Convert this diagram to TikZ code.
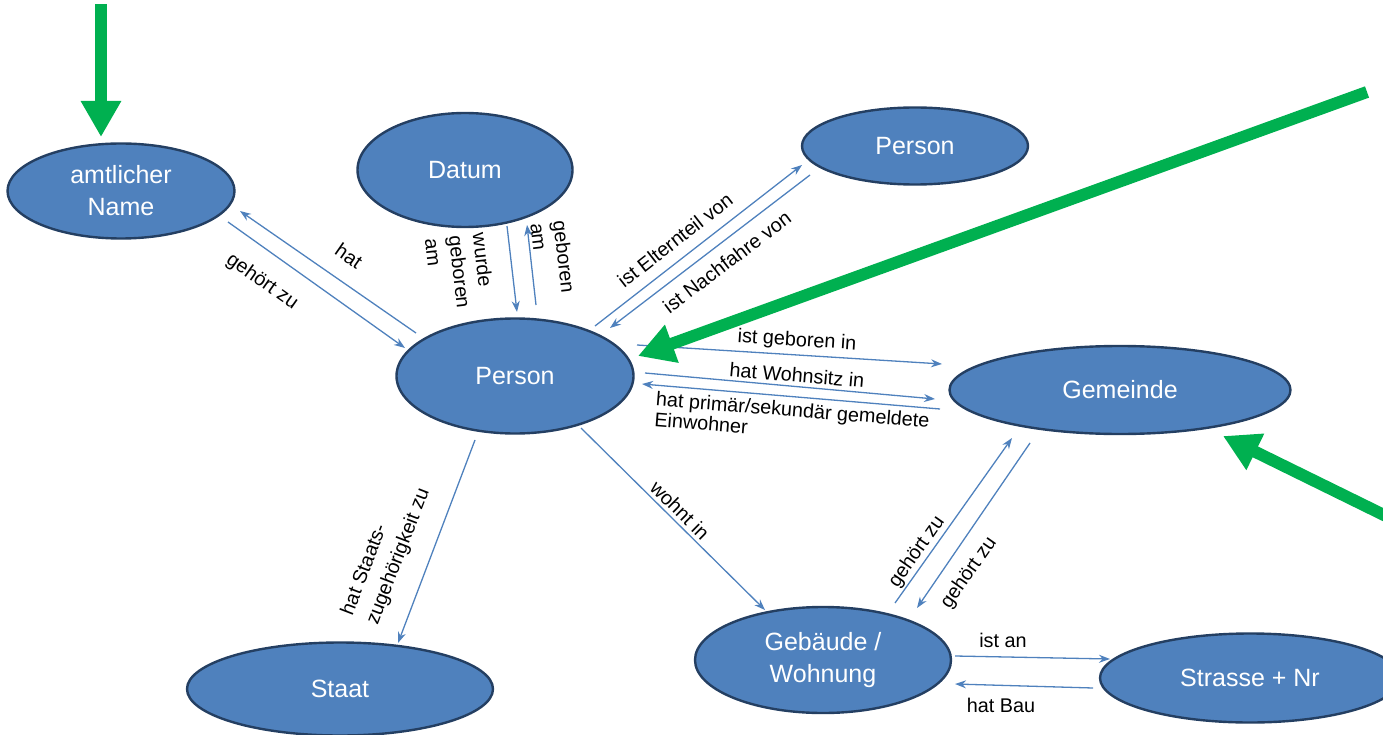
\documentclass[tikz,border=0pt]{standalone}
\usepackage{fontspec}
\setmainfont{Liberation Sans}
\usetikzlibrary{arrows.meta,shapes.geometric}
\definecolor{entfill}{HTML}{4F81BD}
\definecolor{entline}{HTML}{243F62}
\definecolor{relline}{HTML}{4F81BD}
\definecolor{hint}{HTML}{00B050}
\tikzset{
  entity/.style={ellipse, draw=entline, line width=2.4pt, fill=entfill,
    inner sep=0pt, text=white, align=center,
    font=\fontsize{25}{32}\selectfont},
  rel/.style={draw=relline, line width=1.3pt, -{Stealth[length=11pt,width=8pt]}},
  rlabel/.style={font=\fontsize{19.8}{22}\selectfont, inner sep=0pt, align=left},
  hintarrow/.style={draw=hint, line width=12pt, -{Triangle[length=36pt,width=38pt]}}
}
\begin{document}
\begin{tikzpicture}[x=1pt,y=-1pt]
\useasboundingbox (0,0) rectangle (1383,735);
\clip (0,0) rectangle (1383,735);

% entities
\node[entity, minimum width=227pt, minimum height=95pt] (name) at (121,191) {amtlicher\\Name};
\node[entity, minimum width=215pt, minimum height=114pt] (datum) at (465,170) {Datum};
\node[entity, minimum width=226pt, minimum height=77pt] (ptop) at (915,146) {Person};
\node[entity, minimum width=237pt, minimum height=115pt] (person) at (515,376) {Person};
\node[entity, minimum width=341pt, minimum height=88pt] (gemeinde) at (1120,390) {Gemeinde};
\node[entity, minimum width=306pt, minimum height=93pt] (staat) at (340,689) {Staat};
\node[entity, minimum width=256pt, minimum height=106pt] (gebaeude) at (823,660) {Gebäude /\\Wohnung};
\node[entity, minimum width=300pt, minimum height=89pt] (strasse) at (1250,678) {Strasse + Nr};

% relations
\draw[rel] ([shift={(-99,-43)}]person.center) -- ([shift={(119,20)}]name.center);
\draw[rel] ([shift={(107,31)}]name.center) -- ([shift={(-110,-28)}]person.center);
\draw[rel] ([shift={(42,56)}]datum.center) -- ([shift={(2,-64)}]person.center);
\draw[rel] ([shift={(21,-71)}]person.center) -- ([shift={(62,55)}]datum.center);
\draw[rel] ([shift={(80,-50)}]person.center) -- ([shift={(-113,19)}]ptop.center);
\draw[rel] ([shift={(-105,29)}]ptop.center) -- ([shift={(95,-48)}]person.center);
\draw[rel] ([shift={(122,-31)}]person.center) -- ([shift={(-178,-26)}]gemeinde.center);
\draw[rel] ([shift={(130,-3)}]person.center) -- ([shift={(-185,9)}]gemeinde.center);
\draw[rel] ([shift={(-180,19)}]gemeinde.center) -- ([shift={(127,8)}]person.center);
\draw[rel] ([shift={(66,52)}]person.center) -- ([shift={(-58,-50)}]gebaeude.center);
\draw[rel] ([shift={(-40,64)}]person.center) -- ([shift={(58,-46)}]staat.center);
\draw[rel] ([shift={(72,-57)}]gebaeude.center) -- ([shift={(-108,48)}]gemeinde.center);
\draw[rel] ([shift={(-90,53)}]gemeinde.center) -- ([shift={(94,-52)}]gebaeude.center);
\draw[rel] ([shift={(132,-4)}]gebaeude.center) -- ([shift={(-140,-19)}]strasse.center);
\draw[rel] ([shift={(-157,10)}]strasse.center) -- ([shift={(132,24)}]gebaeude.center);

% relation labels
\node[rlabel, rotate=-34.7] (l-hat) at (349,256) {hat};
\node[rlabel, rotate=-35] (l-gehoert) at (262,282) {gehört zu};
\node[rlabel, rotate=-83.4, font=\fontsize{19.8}{24}\selectfont] (l-wurde) at (460,272) {wurde\\geboren\\am};
\node[rlabel, rotate=-83.4, font=\fontsize{19.8}{23}\selectfont] (l-geb) at (553,258) {geboren\\am};
\node[rlabel, rotate=38] (l-eltern) at (675,240) {ist Elternteil von};
\node[rlabel, rotate=37] (l-nach) at (727,262) {ist Nachfahre von};
\node[rlabel, rotate=-3.7] (l-gebin) at (797,341) {ist geboren in};
\node[rlabel, rotate=-5] (l-wohnsitz) at (797,375) {hat Wohnsitz in};
\node[rlabel, rotate=-4.6, font=\fontsize{19.8}{21}\selectfont] (l-einw) at (792,420) {hat primär/sekundär gemeldete\\Einwohner};
\node[rlabel, rotate=-44.7] (l-wohnt) at (680,510) {wohnt in};
\node[rlabel, rotate=69, font=\fontsize{19.8}{27}\selectfont] (l-staat) at (386,552) {hat Staats-\\zugehörigkeit zu};
\node[rlabel, rotate=55] (l-gz1) at (917,552) {gehört zu};
\node[rlabel, rotate=55] (l-gz2) at (969,573) {gehört zu};
\node[rlabel] (l-istan) at (1003,640) {ist an};
\node[rlabel] (l-bau) at (1001,705) {hat Bau};

% highlight arrows
\coordinate (g1s) at (101,4);
\coordinate (g2s) at (1367,92);
\coordinate (g3s) at (1390,518);
\draw[hintarrow] (g1s) -- ([shift={(-20,-54)}]name.center);
\draw[hintarrow] (g2s) -- ([shift={(123,-20)}]person.center);
\draw[hintarrow] (g3s) -- ([shift={(103,46)}]gemeinde.center);
\end{tikzpicture}
\end{document}
